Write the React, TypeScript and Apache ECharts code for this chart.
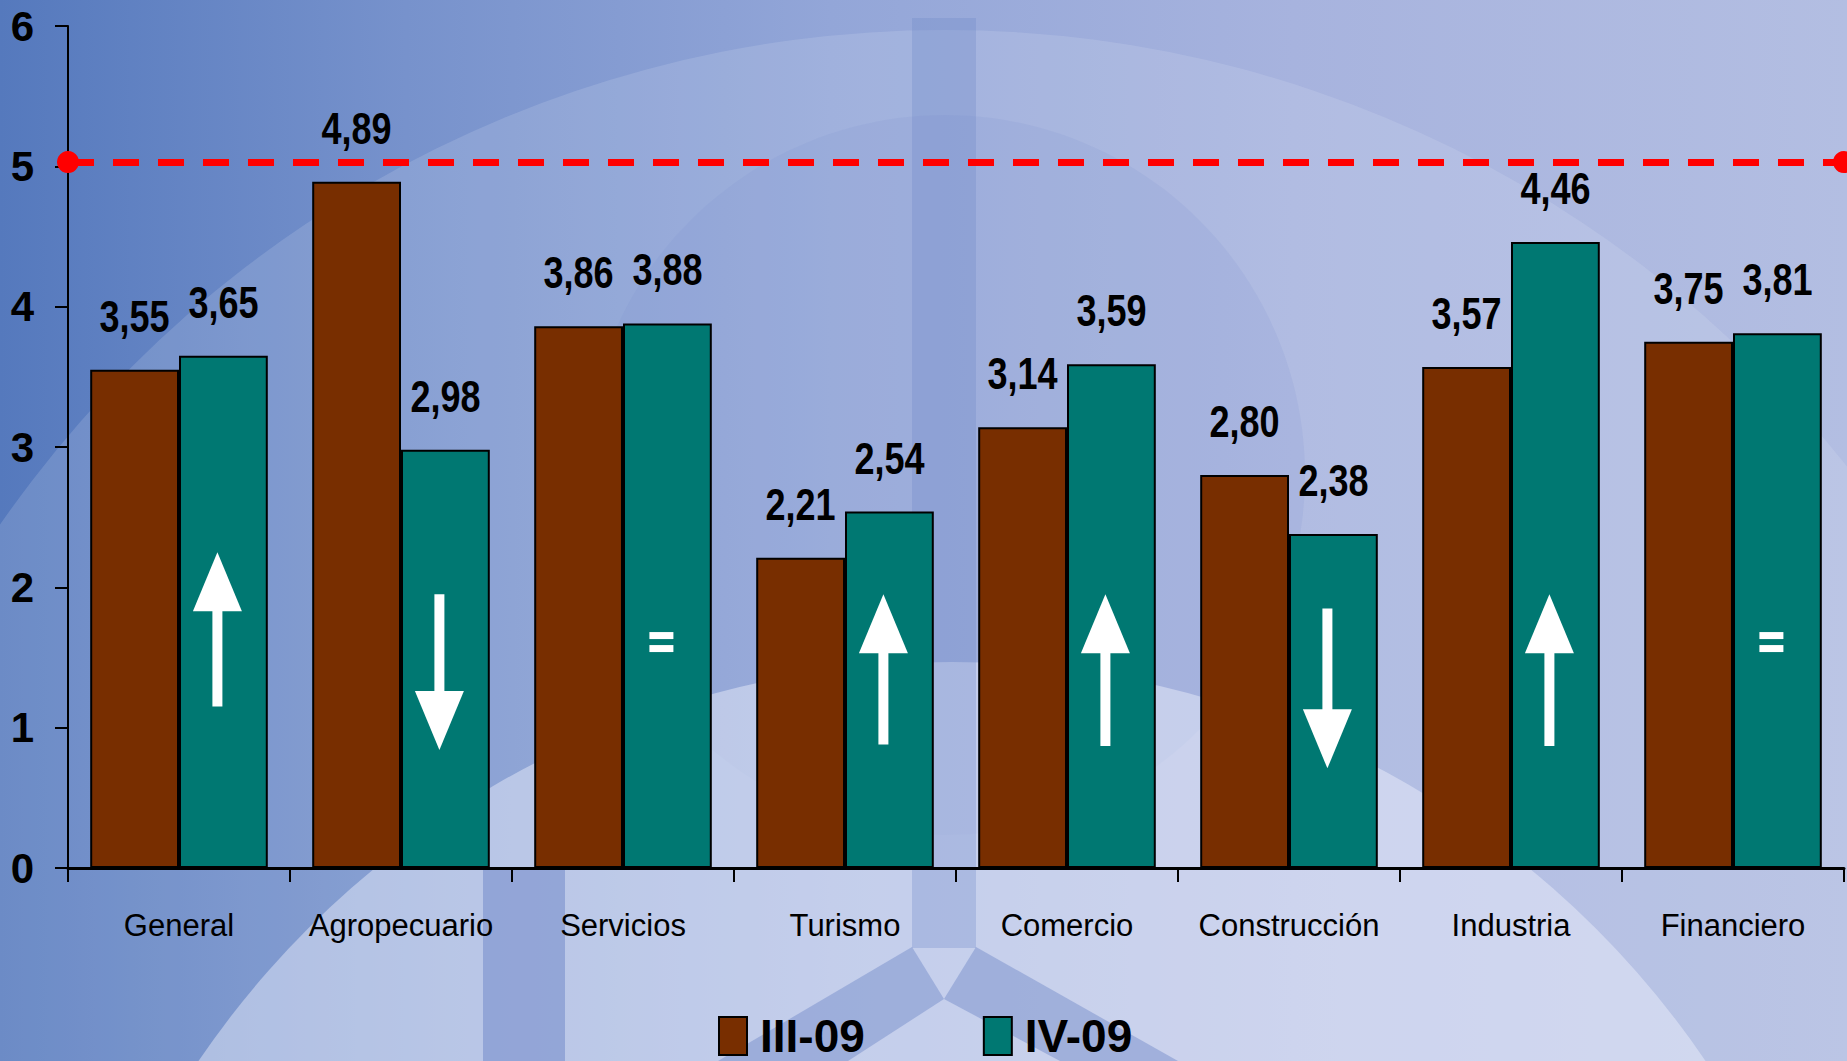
import React, { useEffect, useRef } from "react";
import * as echarts from "echarts";

const categories = ["General", "Agropecuario", "Servicios", "Turismo", "Comercio", "Construcción", "Industria", "Financiero"];
const seriesNames = ["III-09", "IV-09"];
const valuesIII = [3.55, 4.89, 3.86, 2.21, 3.14, 2.8, 3.57, 3.75];
const valuesIV = [3.65, 2.98, 3.88, 2.54, 3.59, 2.38, 4.46, 3.81];
const referenceLevel = 5.03;
// trend marks inside IV-09 bars: 1 = up, -1 = down, 0 = equal
const trendDir = [1, -1, 0, 1, 1, -1, 1, 0];
const trendFrom = [1.15, 1.95, 1.61, 0.88, 0.87, 1.85, 0.87, 1.61];
const trendTo = [2.25, 0.84, 1.61, 1.95, 1.95, 0.71, 1.95, 1.61];
const yTicks = [0, 1, 2, 3, 4, 5, 6];

const FONT = "'Liberation Sans', Arial, sans-serif";
const BROWN = "#782e00";
const TEAL = "#007872";

const fmt = (v: number) => v.toFixed(2).replace(".", ",");

export default function App() {
  const ref = useRef<HTMLDivElement>(null);

  useEffect(() => {
    if (!ref.current) return;
    const chart = echarts.init(ref.current, null, { renderer: "svg" });

    const trendData = categories.map((_, i) => [i, trendDir[i], trendFrom[i], trendTo[i]]);
    const labelData: number[][] = [];
    valuesIII.forEach((v, i) => labelData.push([i, v, 0]));
    valuesIV.forEach((v, i) => labelData.push([i, v, 1]));

    const option: any = {
      animation: false,
      backgroundColor: "transparent",
      graphic: [
        {
          type: "circle",
          z: -10,
          silent: true,
          shape: { cx: 945, cy: 1180, r: 1150 },
          style: { fill: "rgba(230,234,250,0.16)" },
        },
        {
          type: "circle",
          z: -9,
          silent: true,
          shape: { cx: 945, cy: 475, r: 360 },
          style: { fill: "rgba(120,140,205,0.14)" },
        },
        {
          type: "circle",
          z: -9,
          silent: true,
          shape: { cx: 952, cy: 1573, r: 911 },
          style: { fill: "rgba(240,242,252,0.45)" },
        },
        {
          type: "rect",
          z: -8,
          silent: true,
          shape: { x: 912, y: 18, width: 64, height: 930 },
          style: { fill: "rgba(110,135,200,0.3)" },
        },
        {
          type: "polygon",
          z: -8,
          silent: true,
          shape: { points: [[912, 947], [944, 999], [848, 1061], [718, 1061]] },
          style: { fill: "rgba(110,135,200,0.45)" },
        },
        {
          type: "polygon",
          z: -8,
          silent: true,
          shape: { points: [[976, 947], [1178, 1061], [1060, 1061], [944, 999]] },
          style: { fill: "rgba(110,135,200,0.45)" },
        },
        {
          type: "rect",
          z: -8,
          silent: true,
          shape: { x: 483, y: 870, width: 82, height: 191 },
          style: { fill: "rgba(100,125,195,0.45)" },
        },
      ],
      grid: { left: 68, right: 3, top: 26, bottom: 193, containLabel: false },
      legend: {
        data: seriesNames,
        left: 713,
        top: 1008,
        itemWidth: 28,
        itemHeight: 38,
        itemGap: 118,
        icon: "rect",
        itemStyle: { borderColor: "#000", borderWidth: 2 },
        textStyle: {
          fontFamily: FONT,
          fontWeight: "bold",
          fontSize: 46,
          lineHeight: 46,
          color: "#000",
          padding: [0, 0, 0, 8],
        },
      },
      xAxis: {
        type: "category",
        data: categories,
        axisLine: { lineStyle: { color: "#000", width: 3 } },
        axisTick: { show: true, length: 14, lineStyle: { color: "#000", width: 2 } },
        axisLabel: {
          margin: 42,
          fontFamily: FONT,
          fontSize: 31,
          color: "#000",
          interval: 0,
        },
        splitLine: { show: false },
      },
      yAxis: {
        type: "value",
        min: yTicks[0],
        max: yTicks[yTicks.length - 1],
        interval: 1,
        axisLine: { show: true, lineStyle: { color: "#000", width: 2 } },
        axisTick: { show: true, length: 13, lineStyle: { color: "#000", width: 2 } },
        axisLabel: {
          margin: 34,
          fontFamily: FONT,
          fontWeight: "bold",
          fontSize: 42,
          color: "#000",
        },
        splitLine: { show: false },
      },
      series: [
        {
          name: seriesNames[0],
          type: "bar",
          data: valuesIII,
          barGap: "0%",
          barCategoryGap: "20%",
          itemStyle: { color: BROWN, borderColor: "#000", borderWidth: 2 },
          markLine: {
            silent: true,
            symbol: ["circle", "circle"],
            symbolSize: 22,
            label: { show: false },
            lineStyle: { color: "#ff0000", type: [26, 19], width: 7 },
            itemStyle: { color: "#ff0000" },
            data: [{ yAxis: referenceLevel }],
          },
        },
        {
          name: seriesNames[1],
          type: "bar",
          data: valuesIV,
          barGap: "0%",
          barCategoryGap: "20%",
          itemStyle: { color: TEAL, borderColor: "#000", borderWidth: 2 },
        },
        {
          type: "custom",
          name: "values",
          z: 6,
          silent: true,
          data: labelData,
          encode: { x: 0, y: 1 },
          renderItem: (params: any, api: any) => {
            const idx = api.value(0);
            const v = api.value(1);
            const s = api.value(2);
            const band = api.size([1, 0])[0];
            const p = api.coord([idx, v]);
            const x = p[0] + band * (s === 0 ? -0.2 : 0.2);
            return {
              type: "text",
              x,
              y: p[1] - 31,
              scaleX: 0.8,
              style: {
                text: fmt(v),
                fontFamily: FONT,
                fontWeight: "bold",
                fontSize: 45,
                fill: "#000",
                align: "center",
                verticalAlign: "bottom",
              },
            };
          },
        },
        {
          type: "custom",
          name: "trend",
          z: 5,
          silent: true,
          data: trendData,
          encode: { x: 0, y: 2 },
          renderItem: (params: any, api: any) => {
            const idx = api.value(0);
            const dir = api.value(1);
            const from = api.value(2);
            const to = api.value(3);
            const band = api.size([1, 0])[0];
            const c = api.coord([idx, from]);
            const x = c[0] + band * 0.2 - 6;
            const y1 = c[1];
            const y2 = api.coord([idx, to])[1];
            const white = { fill: "#ffffff" };
            if (dir === 0) {
              return {
                type: "group",
                children: [
                  { type: "rect", shape: { x: x - 12, y: y1 - 10, width: 24, height: 7 }, style: white },
                  { type: "rect", shape: { x: x - 12, y: y1 + 3, width: 24, height: 7 }, style: white },
                ],
              };
            }
            const headLen = 59;
            const headHalf = 24.5;
            const shaftHalf = 5;
            if (dir > 0) {
              return {
                type: "group",
                children: [
                  { type: "rect", shape: { x: x - shaftHalf, y: y2 + headLen - 1, width: shaftHalf * 2, height: y1 - (y2 + headLen) + 1 }, style: white },
                  { type: "polygon", shape: { points: [[x, y2], [x + headHalf, y2 + headLen], [x - headHalf, y2 + headLen]] }, style: white },
                ],
              };
            }
            return {
              type: "group",
              children: [
                { type: "rect", shape: { x: x - shaftHalf, y: y1, width: shaftHalf * 2, height: y2 - headLen - y1 + 1 }, style: white },
                { type: "polygon", shape: { points: [[x, y2], [x + headHalf, y2 - headLen], [x - headHalf, y2 - headLen]] }, style: white },
              ],
            };
          },
        },
      ],
    };

    chart.setOption(option);
    return () => chart.dispose();
  }, []);

  return (
    <div
      style={{
        position: "fixed",
        left: 0,
        top: 0,
        width: 1847,
        height: 1061,
        background: "linear-gradient(90deg, #5579bd 0%, #7792cc 22%, #93a6d8 45%, #a7b3de 70%, #b3bee2 100%)",
        overflow: "hidden",
      }}
    >
      <div ref={ref} style={{ width: 1847, height: 1061 }} />
    </div>
  );
}
